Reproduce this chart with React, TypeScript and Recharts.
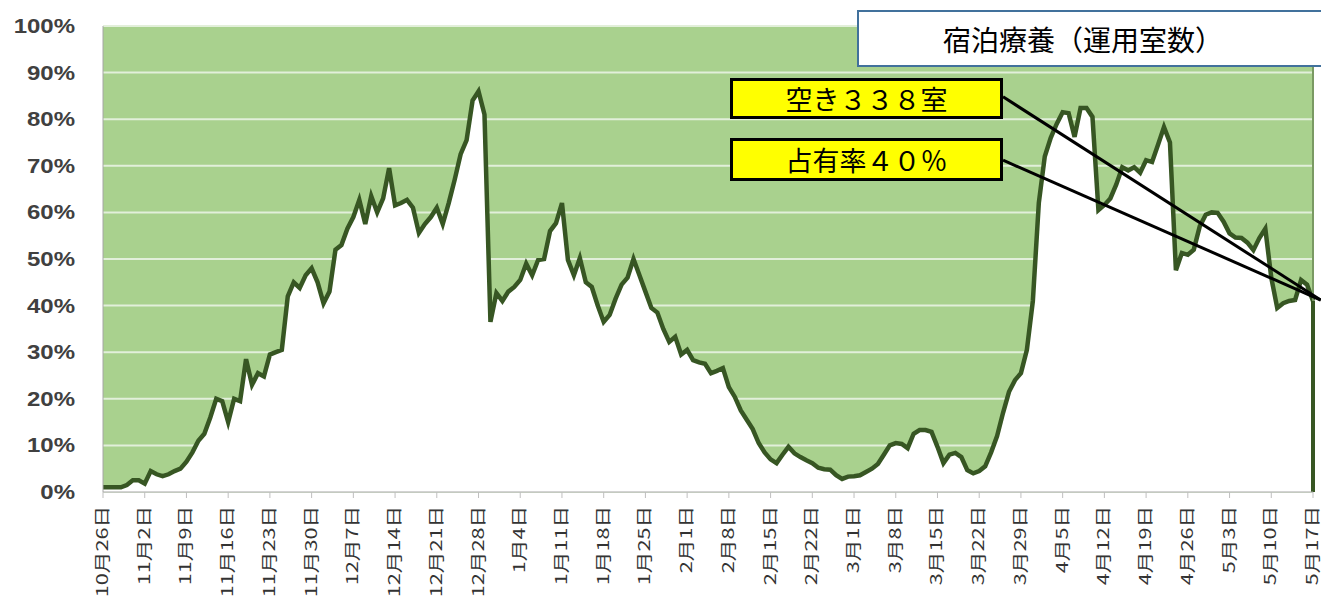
import { AreaChart, Area, XAxis, YAxis, CartesianGrid, ReferenceLine } from 'recharts';

const tickLabels = [
  '10月26日', '11月2日', '11月9日', '11月16日', '11月23日', '11月30日', '12月7日', '12月14日',
  '12月21日', '12月28日', '1月4日', '1月11日', '1月18日', '1月25日', '2月1日', '2月8日',
  '2月15日', '2月22日', '3月1日', '3月8日', '3月15日', '3月22日', '3月29日', '4月5日',
  '4月12日', '4月19日', '4月26日', '5月3日', '5月10日', '5月17日',
];

// occupancy rate (%) per day, 10/26 .. 5/17
const occupancy = [
  1, 1, 1, 1, 1.5, 2.5, 2.5, 1.8, 4.5, 3.8,
  3.4, 3.8, 4.5, 5, 6.5, 8.5, 11, 12.5, 16, 20,
  19.5, 15, 20, 19.5, 28.5, 23, 25.5, 24.8, 29.5, 30,
  30.5, 42, 45, 43.8, 46.5, 48, 45, 40.5, 43, 52,
  53, 56.5, 59, 62.7, 57.5, 63.5, 60, 63, 69.5, 61.5,
  62, 62.7, 61, 55.6, 57.5, 59, 61, 57.5, 62, 67,
  72.5, 75.5, 84, 86, 81, 36.5, 42.7, 41, 43, 44,
  45.5, 49, 46.5, 49.8, 50, 56, 57.7, 62, 49.8, 46.5,
  50.2, 45, 44, 40, 36.5, 38, 41.5, 44.5, 46, 50,
  46.5, 43, 39.5, 38.5, 35, 32.2, 33.3, 29.5, 30.5, 28.3,
  27.8, 27.5, 25.5, 26, 26.6, 22.5, 20.4, 17.5, 15.5, 13.5,
  10.5, 8.5, 7, 6.2, 8, 9.7, 8.3, 7.5, 6.8, 6.2,
  5.2, 4.9, 4.8, 3.6, 2.8, 3.3, 3.4, 3.6, 4.3, 5,
  6, 8, 10, 10.5, 10.3, 9.4, 12.5, 13.3, 13.3, 12.9,
  9.7, 6.2, 8, 8.4, 7.5, 4.7, 4, 4.5, 5.5, 8.5,
  12, 17, 21.5, 24, 25.5, 30.5, 41, 62, 72, 76,
  79, 81.5, 81.3, 76.2, 82.4, 82.4, 80.5, 60.5, 61.6, 63,
  66, 69.7, 69, 69.7, 68.5, 71.2, 70.8, 74.5, 78.3, 75,
  47.6, 51.3, 50.9, 52, 57, 59.5, 60, 59.9, 58, 55.5,
  54.6, 54.5, 53.5, 51.9, 54.5, 56.5, 46, 39.5, 40.5, 41,
  41.2, 45.5, 44.5, 41,
];

const yTicks = [0, 10, 20, 30, 40, 50, 60, 70, 80, 90, 100];

const data = occupancy.map((rate, day) => ({ day, rate }));
const xTicks = tickLabels.map((_, i) => i * 7);
const lastDay = occupancy.length - 1;
const lastRate = occupancy[lastDay];

const jp = '"Noto Sans CJK JP", sans-serif';

const DateTick = ({ x, y, payload }: any) => (
  <g transform={`translate(${x},${y})`}>
    <text
      transform="rotate(-90) scale(1.35,1)"
      x={0}
      y={0}
      dy={5}
      textAnchor="end"
      fontSize={16}
      fill="#333"
      fontFamily={jp}
    >
      {tickLabels[Math.round(payload.value / 7)]}
    </text>
  </g>
);

const PctTick = ({ x, y, payload }: any) => (
  <g transform={`translate(${x},${y})`}>
    <text
      transform="scale(1.2,1)"
      x={0}
      y={0}
      dy={7}
      textAnchor="end"
      fontSize={20}
      fontWeight="bold"
      fill="#404040"
      fontFamily="Liberation Sans, Arial"
    >
      {`${payload.value}%`}
    </text>
  </g>
);

const labelBox = {
  position: 'absolute' as const,
  left: 730,
  width: 267,
  background: '#ffff00',
  border: '3px solid #000',
  fontFamily: jp,
  fontSize: 27,
  color: '#000',
  lineHeight: 1,
  display: 'flex',
  alignItems: 'center',
  justifyContent: 'center',
};

export default function App() {
  return (
    <div style={{ position: 'absolute', left: 0, top: 0, width: 1321, height: 608, background: '#fff', overflow: 'hidden' }}>
      <AreaChart width={1321} height={608} data={data} margin={{ top: 26, right: 8, left: 0, bottom: 0 }}>
        <CartesianGrid vertical={false} fill="#a9d18e" stroke="#e2efda" strokeWidth={2} />
        <XAxis
          dataKey="day"
          type="number"
          domain={[0, lastDay]}
          ticks={xTicks}
          interval={0}
          height={116}
          tick={<DateTick />}
          tickSize={6}
          tickMargin={8}
          axisLine={{ stroke: '#a6a6a6' }}
          tickLine={{ stroke: '#bfbfbf' }}
        />
        <YAxis
          domain={[0, 100]}
          ticks={yTicks}
          width={103}
          tickLine={false}
          tickSize={20}
          tickMargin={8}
          axisLine={{ stroke: '#a6a6a6' }}
          tick={<PctTick />}
        />
        <Area
          type="linear"
          dataKey="rate"
          stroke="#375623"
          strokeWidth={4.5}
          fill="#ffffff"
          fillOpacity={1}
          dot={false}
          activeDot={false}
          isAnimationActive={false}
        />
        <ReferenceLine x={lastDay} stroke="#7a9a63" strokeWidth={2} />
        <ReferenceLine segment={[{ x: lastDay, y: 0 }, { x: lastDay, y: lastRate }]} stroke="#375623" strokeWidth={4} />
        <ReferenceLine
          segment={[{ x: 151, y: 84.8 }, { x: 204.3, y: 41.2 }]}
          stroke="#000"
          strokeWidth={3}
          ifOverflow="visible"
        />
        <ReferenceLine
          segment={[{ x: 151, y: 71.2 }, { x: 204.3, y: 41.2 }]}
          stroke="#000"
          strokeWidth={3}
          ifOverflow="visible"
        />
      </AreaChart>
      <div
        style={{
          position: 'absolute',
          left: 857,
          top: 10,
          width: 470,
          height: 57,
          background: '#fff',
          border: '2px solid #41719c',
          fontFamily: jp,
          fontSize: 28,
          color: '#000',
          display: 'flex',
          alignItems: 'center',
          paddingLeft: 84,
          boxSizing: 'border-box',
        }}
      >
        宿泊療養（運用室数）
      </div>
      <div style={{ ...labelBox, top: 78, height: 35 }}>空き３３８室</div>
      <div style={{ ...labelBox, top: 138, height: 37 }}>占有率４０％</div>
    </div>
  );
}
